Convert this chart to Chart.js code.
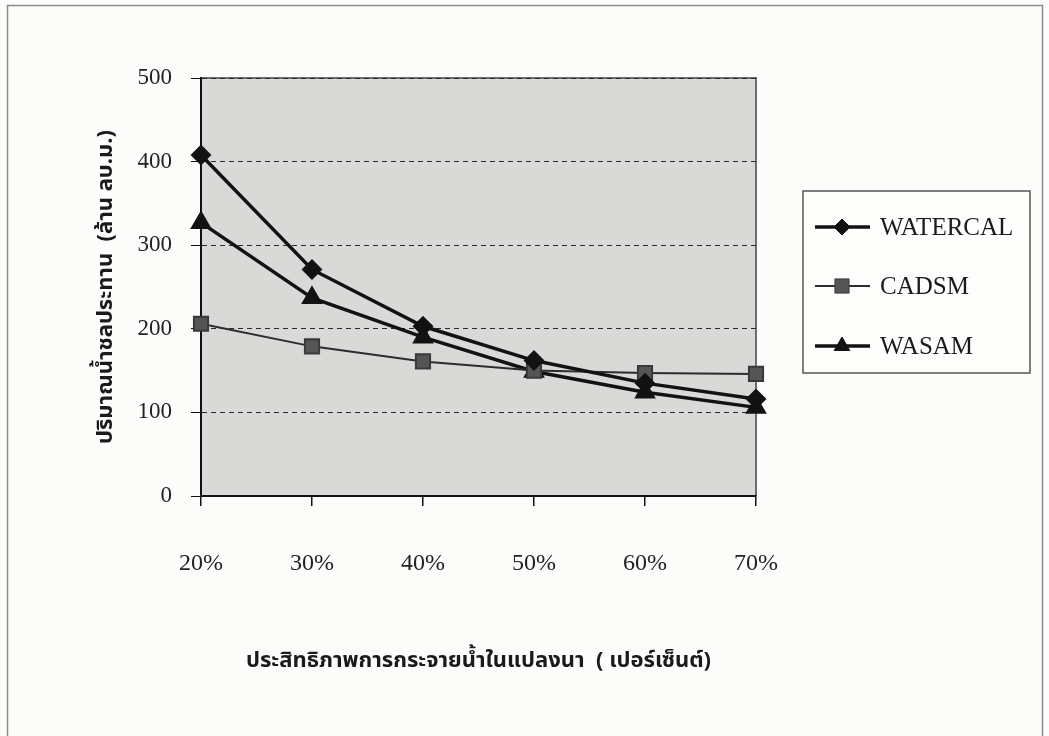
<!DOCTYPE html>
<html><head><meta charset="utf-8">
<script src="https://cdn.jsdelivr.net/npm/chart.js@4.4.0/dist/chart.umd.min.js"></script>
<style>html,body{margin:0;padding:0;background:#fcfcfb;overflow:hidden}#wrap{width:1049px;height:736px;position:relative}</style>
</head><body><div id="wrap"><canvas id="c" width="1049" height="736"></canvas></div>
<script>
const categories = ['20%', '30%', '40%', '50%', '60%', '70%'];
const watercal = [408, 271, 203, 162, 135, 116];
const cadsm = [206, 179, 161, 150, 147, 146];
const wasam = [327, 237, 190, 149, 124, 106];
const seriesNames = ['WATERCAL', 'CADSM', 'WASAM'];
const yTickValues = [0, 100, 200, 300, 400, 500];
const yTitle = 'ปริมาณน้ำชลประทาน  (ล้าน ลบ.ม.)';
const xTitle = 'ประสิทธิภาพการกระจายน้ำในแปลงนา  ( เปอร์เซ็นต์)';

const serif = "'Liberation Serif', 'Times New Roman', serif";
const thai = "'Noto Sans Thai', 'Noto Serif Thai', 'Loma', 'Garuda', 'Norasi', 'Kinnari', 'Tlwg Typo', 'Noto Sans', sans-serif";

const framePlugin = {
  id: 'frame',
  beforeDraw(chart) {
    const {ctx, chartArea: a} = chart;
    ctx.save();
    ctx.fillStyle = '#fcfcfb';
    ctx.fillRect(0, 0, chart.width, chart.height);
    ctx.strokeStyle = '#8a8a8a';
    ctx.lineWidth = 1.5;
    ctx.strokeRect(7.5, 5.5, 1035, 740);
    ctx.fillStyle = '#d9d9d7';
    ctx.fillRect(a.left, a.top, a.right - a.left, a.bottom - a.top);
    ctx.strokeStyle = '#6e6e6e';
    ctx.lineWidth = 2;
    ctx.beginPath();
    ctx.moveTo(a.left, a.top);
    ctx.lineTo(a.right, a.top);
    ctx.lineTo(a.right, a.bottom);
    ctx.stroke();
    ctx.restore();
  }
};

const legendPlugin = {
  id: 'boxLegend',
  afterDraw(chart) {
    const {ctx} = chart;
    const bx = 803, by = 191, bw = 227, bh = 182;
    ctx.save();
    ctx.fillStyle = '#fdfdfc';
    ctx.fillRect(bx, by, bw, bh);
    ctx.strokeStyle = '#555';
    ctx.lineWidth = 1.5;
    ctx.strokeRect(bx, by, bw, bh);
    const rows = [227, 286, 346];
    chart.data.datasets.forEach((ds, i) => {
      const y = rows[i];
      ctx.strokeStyle = ds.borderColor;
      ctx.lineWidth = ds.borderWidth;
      ctx.beginPath();
      ctx.moveTo(815, y);
      ctx.lineTo(870, y);
      ctx.stroke();
      ctx.fillStyle = ds.backgroundColor;
      ctx.strokeStyle = ds.pointBorderColor;
      ctx.lineWidth = 1;
      Chart.helpers.drawPoint(ctx, {
        pointStyle: ds.pointStyle, radius: ds.pointRadius, rotation: 0, borderWidth: 1
      }, 842, y);
      ctx.fillStyle = '#1a1a1a';
      ctx.font = "25px " + serif;
      ctx.textBaseline = 'middle';
      ctx.textAlign = 'left';
      ctx.fillText(ds.label, 880, y + 1);
    });
    ctx.restore();
  }
};

new Chart(document.getElementById('c'), {
  type: 'line',
  data: {
    labels: categories,
    datasets: [
      {label: seriesNames[0], data: watercal, borderColor: '#121212', backgroundColor: '#121212', pointBorderColor: '#121212',
       borderWidth: 3.5, pointStyle: 'rectRot', pointRadius: 8, tension: 0},
      {label: seriesNames[1], data: cadsm, borderColor: '#2c2c2c', backgroundColor: '#555', pointBorderColor: '#3a3a3a',
       borderWidth: 2, pointStyle: 'rect', pointRadius: 10, tension: 0},
      {label: seriesNames[2], data: wasam, borderColor: '#121212', backgroundColor: '#121212', pointBorderColor: '#121212',
       borderWidth: 3.5, pointStyle: 'triangle', pointRadius: 9, tension: 0}
    ]
  },
  options: {
    responsive: false,
    devicePixelRatio: 1,
    animation: false,
    layout: {padding: {left: 0, top: 78, right: 293, bottom: 0}},
    plugins: {legend: {display: false}, tooltip: {enabled: false}},
    scales: {
      x: {
        offset: false,
        afterFit(s) { s.height = 240; },
        grid: {drawOnChartArea: false, drawTicks: true, tickLength: 10, color: '#111', lineWidth: 1.5},
        border: {display: true, color: '#111', width: 2},
        ticks: {font: {family: serif, size: 24}, color: '#222', padding: 43, maxRotation: 0},
        title: {display: true, text: xTitle, font: {family: thai, size: 22, weight: 'bold'}, color: '#1a1a1a', padding: {top: 0, bottom: 60}}
      },
      y: {
        min: 0, max: 500,
        afterFit(s) { s.width = 201; },
        afterBuildTicks(s) { s.ticks = yTickValues.map(v => ({value: v})); },
        grid: {color: '#2a2a2a', lineWidth: 1, drawTicks: true, tickLength: 10, tickColor: '#111'},
        border: {display: true, color: '#111', width: 2, dash: [5, 4]},
        ticks: {font: {family: serif, size: 23}, color: '#222', padding: 19},
        title: {display: true, text: yTitle, font: {family: thai, size: 22, weight: 'bold'}, color: '#1a1a1a', padding: {top: 94, bottom: 0}}
      }
    }
  },
  plugins: [framePlugin, legendPlugin]
});
</script>
</body></html>
